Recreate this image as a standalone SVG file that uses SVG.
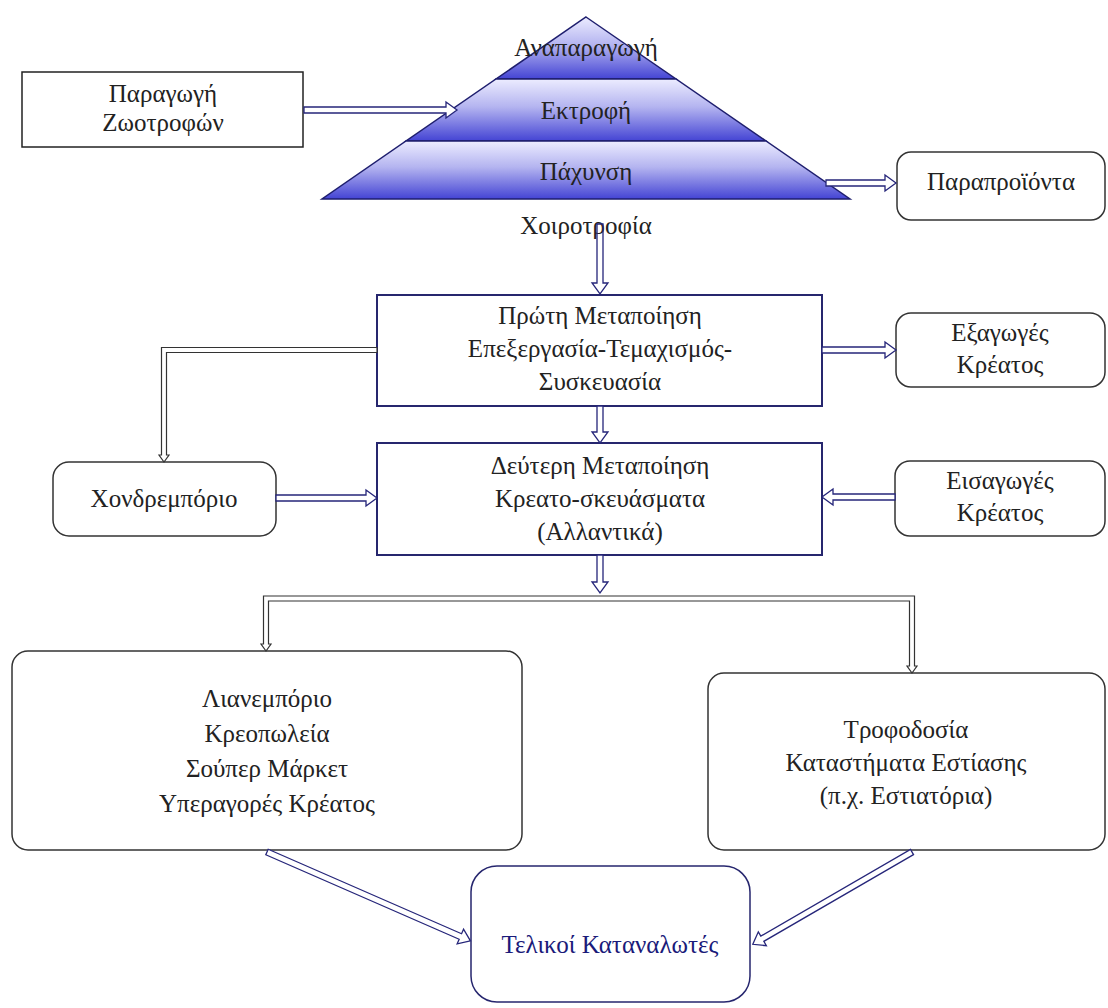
<svg xmlns="http://www.w3.org/2000/svg" width="1108" height="1008" viewBox="0 0 1108 1008">
<style>
text{font-family:'Liberation Serif','DejaVu Serif',serif;font-size:25px;fill:#222;text-anchor:middle}
.box{fill:#fff;stroke:#222;stroke-width:1.5}
.nbox{fill:#fff;stroke:#26266e;stroke-width:2}
.rbox{fill:#fff;stroke:#333;stroke-width:1.5}
.band{fill:url(#pg);stroke:#1e1e6e;stroke-width:1.5}
.ba{fill:#fff;stroke:#26267a;stroke-width:1.3}
.ga{fill:#fff;stroke:#333;stroke-width:1.2}
.navy{fill:#1a1a7a}
</style>
<defs>
<linearGradient id="pg" x1="0" y1="0" x2="0" y2="1">
<stop offset="0" stop-color="#ececff"/>
<stop offset="0.45" stop-color="#b4b4f0"/>
<stop offset="1" stop-color="#4444d4"/>
</linearGradient>
</defs>
<rect width="1108" height="1008" fill="#fff"/>

<g id="pyramid">
<polygon class="band" points="586,17 676,79 496,79"/>
<polygon class="band" points="496,79 676,79 766,141 406,141"/>
<polygon class="band" points="406,141 766,141 850,199 322,199"/>
<text x="586" y="56">Αναπαραγωγή</text>
<text x="586" y="119">Εκτροφή</text>
<text x="586" y="180">Πάχυνση</text>
<text x="586" y="234">Χοιροτροφία</text>
</g>

<g id="feed">
<rect class="box" x="22" y="72" width="281" height="75"/>
<text x="163" y="102">Παραγωγή</text>
<text x="163" y="131">Ζωοτροφών</text>
</g>

<g id="byproducts">
<rect class="rbox" x="897" y="152" width="208" height="68" rx="14"/>
<text x="1001" y="190">Παραπροϊόντα</text>
</g>

<g id="first">
<rect class="nbox" x="377" y="295" width="445" height="111"/>
<text x="600" y="324">Πρώτη Μεταποίηση</text>
<text x="600" y="357">Επεξεργασία-Τεμαχισμός-</text>
<text x="600" y="390">Συσκευασία</text>
</g>

<g id="exports">
<rect class="rbox" x="896" y="313" width="209" height="74" rx="15"/>
<text x="1000" y="341">Εξαγωγές</text>
<text x="1000" y="373">Κρέατος</text>
</g>

<g id="second">
<rect class="nbox" x="377" y="443" width="445" height="112"/>
<text x="600" y="474">Δεύτερη Μεταποίηση</text>
<text x="600" y="507">Κρεατο-σκευάσματα</text>
<text x="600" y="540">(Αλλαντικά)</text>
</g>

<g id="wholesale">
<rect class="rbox" x="53" y="462" width="223" height="74" rx="16"/>
<text x="164" y="507">Χονδρεμπόριο</text>
</g>

<g id="imports">
<rect class="rbox" x="895" y="461" width="210" height="75" rx="15"/>
<text x="1000" y="489">Εισαγωγές</text>
<text x="1000" y="521">Κρέατος</text>
</g>

<g id="retail">
<rect class="rbox" x="12" y="651" width="510" height="199" rx="16"/>
<text x="267" y="707">Λιανεμπόριο</text>
<text x="267" y="742">Κρεοπωλεία</text>
<text x="267" y="777">Σούπερ Μάρκετ</text>
<text x="267" y="812">Υπεραγορές Κρέατος</text>
</g>

<g id="catering">
<rect class="rbox" x="708" y="673" width="397" height="177" rx="16"/>
<text x="906" y="738">Τροφοδοσία</text>
<text x="906" y="771">Καταστήματα Εστίασης</text>
<text x="906" y="804">(π.χ. Εστιατόρια)</text>
</g>

<g id="consumers">
<rect x="471" y="866" width="279" height="136" rx="26" fill="#fff" stroke="#26266e" stroke-width="1.5"/>
<text class="navy" x="610" y="953">Τελικοί Καταναλωτές</text>
</g>

<g id="connectors">
<path class="ba" d="M304,107 H446 V102 L457,110 L446,118 V113 H304 Z"/>
<path class="ba" d="M826,180 H885 V175 L896,183 L885,191 V186 H826 Z"/>
<path class="ba" style="fill:none" d="M597,224 V283 H592 L600,294 L608,283 H603 V224 Z"/>
<path class="ba" d="M822,347 H885 V342 L896,350 L885,358 V353 H822 Z"/>
<path class="ba" d="M597,406 V432 H592 L600,443 L608,432 H603 V406 Z"/>
<path class="ba" d="M276,495 H366 V490 L377,498 L366,506 V501 H276 Z"/>
<path class="ba" d="M895,494 H833 V489 L822,497 L833,505 V500 H895 Z"/>
<path class="ba" d="M597,555 V582 H592 L600,593 L608,582 H603 V555 Z"/>
<path class="ga" d="M377,347.5 H161.5 V455 H159 L164,462 L169,455 H166.5 V352.5 H377 Z"/>
<path class="ga" d="M263.5,644 V596 H914.5 V666 H917 L912,673 L907,666 H909.5 V601 H268.5 V644 H271 L266,651 L261,644 Z"/>
<g transform="translate(267,852) rotate(23.6)">
<path class="ba" d="M0,-3 H211 V-8 L222,0 L211,8 V3 H0 Z"/>
</g>
<g transform="translate(912,852) rotate(149.9)">
<path class="ba" d="M0,-3 H173 V-8 L184,0 L173,8 V3 H0 Z"/>
</g>
</g>
</svg>
